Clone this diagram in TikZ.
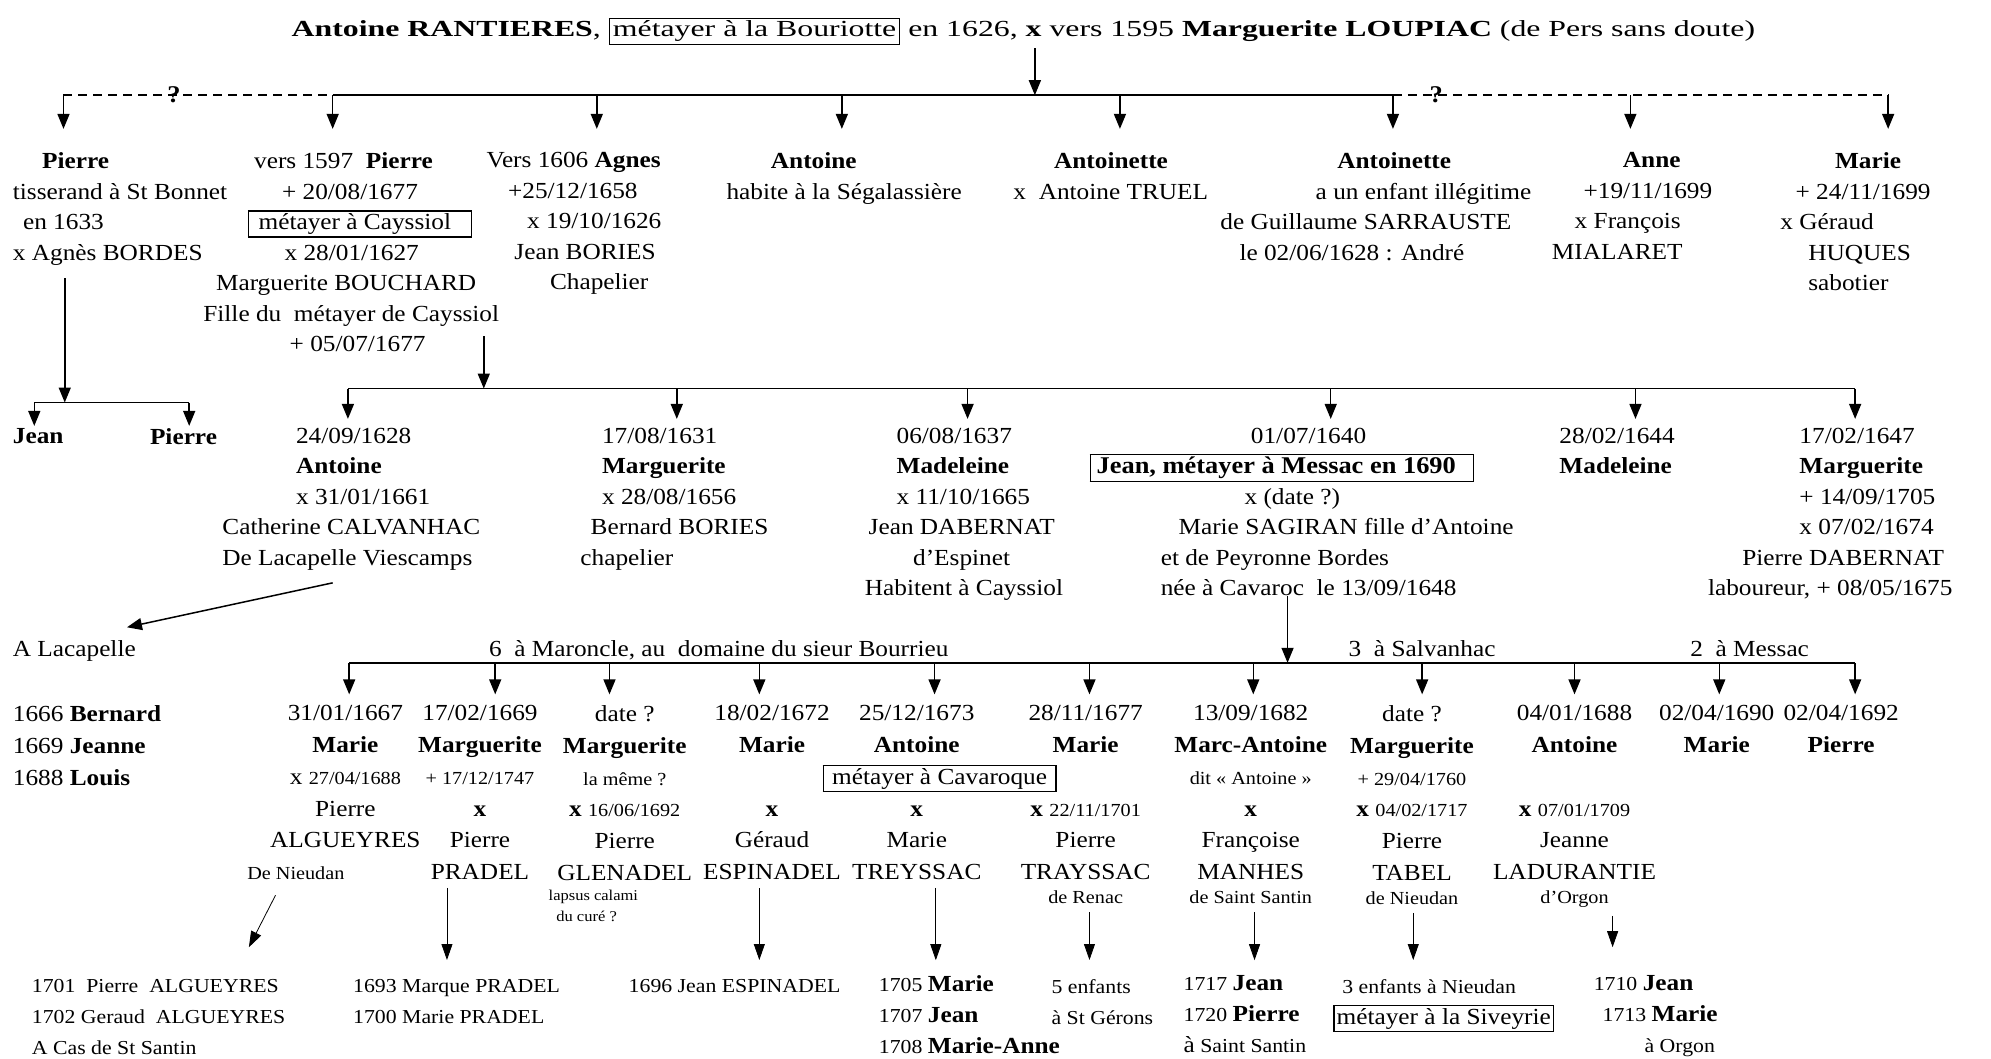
\documentclass[tikz,border=0pt]{standalone}
\usepackage{graphicx}
\usepackage{fontspec}
\setmainfont[FakeStretch=1.1]{Liberation Serif}
\usetikzlibrary{arrows.meta, positioning}
\tikzstyle{person} = [inner sep=0pt, align=left, anchor=north west, font=\fontsize{23}{30.5}\selectfont]
\tikzstyle{kid} = [inner sep=0pt, align=center, anchor=north, font=\fontsize{23}{31.75}\selectfont]
\tikzstyle{issue} = [inner sep=0pt, align=left, anchor=north west, font=\fontsize{19.8}{31}\selectfont]
\tikzstyle{note} = [inner sep=0pt, anchor=base west, font=\fontsize{23}{30}\selectfont]
\tikzstyle{bar} = [line width=1.5pt]
\tikzstyle{arrow} = [line width=1.5pt, -{Triangle[length=15pt, width=12pt]}]
\tikzstyle{slimarrow} = [line width=0.8pt, -{Triangle[length=16pt, width=11pt]}]
\newlength{\hunit}
\setlength{\hunit}{1.27pt}
\newcommand{\ind}[1]{\hspace*{#1\hunit}}
\newcommand{\petit}[1]{{\fontsize{18.4}{30}\selectfont #1}}
\newcommand{\grand}[1]{{\fontsize{23}{31}\selectfont #1}}
\newcommand{\boite}[1]{{\setlength{\fboxsep}{2pt}\setlength{\fboxrule}{1.2pt}\fbox{#1}}}

\begin{document}
\begin{tikzpicture}[x=1.27pt, y=-1.27pt]
	\useasboundingbox (0,0) rectangle (1568,834);

	% The couple
	\node (titre) [note, anchor=base] at (806,29) {\scalebox{1.257}[1]{\textbf{Antoine RANTIERES}, \boite{métayer à la Bouriotte} en 1626, \textbf{x} vers 1595 \textbf{Marguerite LOUPIAC} (de Pers sans doute)}};

	% Bar of generation 1
	\coordinate (g1) at (815,75);
	\coordinate (a1) at (50,75);
	\coordinate (a2) at (262,75);
	\coordinate (a3) at (470,75);
	\coordinate (a4) at (663,75);
	\coordinate (a5) at (882,75);
	\coordinate (a6) at (1097,75);
	\coordinate (a7) at (1284,75);
	\coordinate (a8) at (1487,75);
	\draw [arrow, shorten <=3pt] (titre.south -| g1) -- (g1);
	\draw [bar, dash pattern=on 9pt off 6pt] (a1) -- (a2);
	\draw [bar] (a2) -- (a6);
	\draw [bar, dash pattern=on 9pt off 6pt] (a6) -- (a8);
	\node (doute1) [note, anchor=base, font=\bfseries\fontsize{24}{30}\selectfont] at (137,81) {?};
	\node (doute2) [note, anchor=base, font=\bfseries\fontsize{24}{30}\selectfont] at (1131,81) {?};

	% Generation 1
	\node (pierreT) [person] at (10,120) {\ind{23}\textbf{Pierre}\\ tisserand à St Bonnet\\ \ind{8}en 1633\\ x Agnès BORDES};
	\node (pierreC) [person] at (160,120) {\ind{40}vers 1597~~\textbf{Pierre}\\ \ind{62}+ 20/08/1677\\ \ind{35}\boite{\ind{6}métayer à Cayssiol\ind{14}}\\ \ind{64}x 28/01/1627\\ \ind{10}Marguerite BOUCHARD\\ Fille du~~métayer de Cayssiol\\ \ind{68}+ 05/07/1677};
	\node (agnes) [person] at (383,120) {Vers 1606 \textbf{Agnes}\\ \ind{17}+25/12/1658\\ \ind{32}x 19/10/1626\\ \ind{22}Jean BORIES\\ \ind{50}Chapelier};
	\node (antoineS) [person] at (572,120) {\ind{35}\textbf{Antoine}\\ habite à la Ségalassière};
	\node (antoinetteT) [person] at (798,120) {\ind{32}\textbf{Antoinette}\\ x~~Antoine TRUEL};
	\node (antoinetteS) [person] at (961,120) {\ind{92}\textbf{Antoinette}\\ \ind{75}a un enfant illégitime\\ de Guillaume SARRAUSTE\\ \ind{15}le 02/06/1628 : André};
	\node (anne) [person] at (1222,120) {\ind{56}\textbf{Anne}\\ \ind{25}+19/11/1699\\ \ind{18}x François\\ MIALARET};
	\node (marieH) [person] at (1402,120) {\ind{43}\textbf{Marie}\\ \ind{12}+ 24/11/1699\\ x Géraud\\ \ind{22}HUQUES\\ \ind{22}sabotier};

	\draw [arrow, shorten >=23.5pt] (a1) -- (a1 |- pierreT.north);
	\draw [arrow, shorten >=23.5pt] (a2) -- (a2 |- pierreC.north);
	\draw [arrow, shorten >=23.5pt] (a3) -- (a3 |- agnes.north);
	\draw [arrow, shorten >=23.5pt] (a4) -- (a4 |- antoineS.north);
	\draw [arrow, shorten >=23.5pt] (a5) -- (a5 |- antoinetteT.north);
	\draw [arrow, shorten >=23.5pt] (a6) -- (a6 |- antoinetteS.north);
	\draw [arrow, shorten >=23.5pt] (a7) -- (a7 |- anne.north);
	\draw [arrow, shorten >=23.5pt] (a8) -- (a8 |- marieH.north);

	% Children of Pierre the weaver
	\node (jeanT) [person] at (10,337) {\textbf{Jean}};
	\node (pierreJ) [person] at (118,337) {\textbf{Pierre}};
	\coordinate (jp) at (51,317);
	\coordinate (jpl) at (27,317);
	\coordinate (jpr) at (149,317);
	\draw [arrow, shorten <=13pt] (pierreT.south -| jp) -- (jp);
	\draw [bar] (jpl) -- (jpr);
	\draw [arrow, shorten >=2pt] (jpl) -- (jpl |- jeanT.north);
	\draw [arrow, shorten >=2pt] (jpr) -- (jpr |- pierreJ.north);

	% Bar of generation 2
	\coordinate (g2s) at (381,265);
	\coordinate (g2) at (381,306);
	\coordinate (b1) at (274,306);
	\coordinate (b2) at (533,306);
	\coordinate (b3) at (762,306);
	\coordinate (b4) at (1048,306);
	\coordinate (b5) at (1288,306);
	\coordinate (b6) at (1461,306);
	\draw [arrow] (g2s) -- (g2);
	\draw [bar] (b1) -- (b6);

	% Generation 2
	\node (antoineC) [person] at (175,337) {\ind{58}24/09/1628\\ \ind{58}\textbf{Antoine}\\ \ind{58}x 31/01/1661\\ Catherine CALVANHAC\\ De Lacapelle Viescamps};
	\node (margueriteB) [person] at (457,337) {\ind{17}17/08/1631\\ \ind{17}\textbf{Marguerite}\\ \ind{17}x 28/08/1656\\ \ind{8}Bernard BORIES\\ chapelier};
	\node (madeleineD) [person] at (681,337) {\ind{25}06/08/1637\\ \ind{25}\textbf{Madeleine}\\ \ind{25}x 11/10/1665\\ \ind{3}Jean DABERNAT\\ \ind{38}d’Espinet\\ Habitent à Cayssiol};
	\node (jeanM) [person] at (858,337) {\ind{127}01/07/1640\\ \boite{\ind{3}{\fontsize{24}{30}\selectfont\textbf{Jean, métayer à Messac en 1690}}\ind{12}}\\ \ind{122}x (date ?)\\ \ind{70}Marie SAGIRAN fille d’Antoine\\ \ind{56}et de Peyronne Bordes\\ \ind{56}née à Cavaroc~~le 13/09/1648};
	\node (madeleineM) [person] at (1228,337) {28/02/1644\\ \textbf{Madeleine}};
	\node (margueriteD) [person] at (1345,337) {\ind{72}17/02/1647\\ \ind{72}\textbf{Marguerite}\\ \ind{72}+ 14/09/1705\\ \ind{72}x 07/02/1674\\ \ind{27}Pierre DABERNAT\\ laboureur, + 08/05/1675};

	\draw [arrow, shorten >=9pt] (b1) -- (b1 |- antoineC.north);
	\draw [arrow, shorten >=9pt] (b2) -- (b2 |- margueriteB.north);
	\draw [arrow, shorten >=9pt] (b3) -- (b3 |- madeleineD.north);
	\draw [arrow, shorten >=9pt] (b4) -- (b4 |- jeanM.north);
	\draw [arrow, shorten >=9pt] (b5) -- (b5 |- madeleineM.north);
	\draw [arrow, shorten >=9pt] (b6) -- (b6 |- margueriteD.north);

	% Antoine moves to Lacapelle
	\node (lacapelle) [note] at (10,517) {A Lacapelle};
	\node (lacapelleK) [person, font=\fontsize{23}{31.75}\selectfont] at (10,555.5) {1666 \textbf{Bernard}\\ 1669 \textbf{Jeanne}\\ 1688 \textbf{Louis}};
	\coordinate (lc1) at (262,459);
	\coordinate (lc2) at (100,494);
	\draw [arrow] (lc1) -- (lc2);

	% Bar of generation 3
	\coordinate (g3) at (1014,522);
	\coordinate (c1) at (275,522);
	\coordinate (c2) at (390,522);
	\coordinate (c3) at (480,522);
	\coordinate (c4) at (598,522);
	\coordinate (c5) at (736,522);
	\coordinate (c6) at (858,522);
	\coordinate (c7) at (987,522);
	\coordinate (c8) at (1120,522);
	\coordinate (c9) at (1240,522);
	\coordinate (c10) at (1354,522);
	\coordinate (c11) at (1461,522);
	\draw [arrow] (jeanM.south -| g3) -- (g3);
	\draw [bar] (c1) -- (c11);
	\node (maroncle) [note] at (385,517) {6~~à Maroncle, au~~domaine du sieur Bourrieu};
	\node (salvanhac) [note] at (1062,517) {3~~à Salvanhac};
	\node (messac) [note] at (1331,517) {2~~à Messac};

	% Generation 3
	\node (k1) [kid] at (272,555.5) {31/01/1667\\ \textbf{Marie}\\ x \petit{27/04/1688}\\ Pierre\\ ALGUEYRES\\ \petit{De Nieudan}\ind{78}};
	\node (k2) [kid] at (378,555.5) {17/02/1669\\ \textbf{Marguerite}\\ \petit{+ 17/12/1747}\\ \textbf{x}\\ Pierre\\ PRADEL};
	\node (k3) [kid] at (492,555.5) {date ?\\ \textbf{Marguerite}\\ \petit{la même ?}\\ \textbf{x} \petit{16/06/1692}\\ Pierre\\ GLENADEL};
	\node (lapsus) [inner sep=0pt, align=left, anchor=north west, font=\fontsize{15}{20.3}\selectfont] at (432,701) {lapsus calami\\ \ind{6}du curé ?};
	\node (k4) [kid] at (608,555.5) {18/02/1672\\ \textbf{Marie}\\ \mbox{}\\ \textbf{x}\\ Géraud\\ ESPINADEL};
	\node (k5) [kid] at (722,555.5) {25/12/1673\\ \textbf{Antoine}\\ \ind{36}\boite{\ind{5}métayer à Cavaroque\ind{5}}\\ \textbf{x}\\ Marie\\ TREYSSAC};
	\node (k6) [kid] at (855,555.5) {28/11/1677\\ \textbf{Marie}\\ \mbox{}\\ \textbf{x} \petit{22/11/1701}\\ Pierre\\ TRAYSSAC\\[-7.6pt] \petit{de Renac}};
	\node (k7) [kid] at (985,555.5) {13/09/1682\\ \textbf{Marc-Antoine}\\ \petit{dit « Antoine »}\\ \textbf{x}\\ Françoise\\ MANHES\\[-7.6pt] \petit{de Saint Santin}};
	\node (k8) [kid] at (1112,555.5) {date ?\\ \textbf{Marguerite}\\ \petit{+ 29/04/1760}\\ \textbf{x} \petit{04/02/1717}\\ Pierre\\ TABEL\\[-7.6pt] \petit{de Nieudan}};
	\node (k9) [kid] at (1240,555.5) {04/01/1688\\ \textbf{Antoine}\\ \mbox{}\\ \textbf{x} \petit{07/01/1709}\\ Jeanne\\ LADURANTIE\\[-7.6pt] \petit{d’Orgon}};
	\node (k10) [kid] at (1352,555.5) {02/04/1690\\ \textbf{Marie}};
	\node (k11) [kid] at (1450,555.5) {02/04/1692\\ \textbf{Pierre}};

	\draw [arrow, shorten >=11pt] (c1) -- (c1 |- k1.north);
	\draw [arrow, shorten >=11pt] (c2) -- (c2 |- k2.north);
	\draw [arrow, shorten >=11pt] (c3) -- (c3 |- k3.north);
	\draw [arrow, shorten >=11pt] (c4) -- (c4 |- k4.north);
	\draw [arrow, shorten >=11pt] (c5) -- (c5 |- k5.north);
	\draw [arrow, shorten >=11pt] (c6) -- (c6 |- k6.north);
	\draw [arrow, shorten >=11pt] (c7) -- (c7 |- k7.north);
	\draw [arrow, shorten >=11pt] (c8) -- (c8 |- k8.north);
	\draw [arrow, shorten >=11pt] (c9) -- (c9 |- k9.north);
	\draw [arrow, shorten >=11pt] (c10) -- (c10 |- k10.north);
	\draw [arrow, shorten >=11pt] (c11) -- (c11 |- k11.north);

	% Generation 4
	\node (algueyres) [issue] at (25,771) {1701~~Pierre~~ALGUEYRES\\ 1702 Geraud~~ALGUEYRES\\ A Cas de St Santin};
	\node (pradel) [issue] at (278,771) {1693 Marque PRADEL\\ 1700 Marie PRADEL};
	\node (espinadel) [issue] at (495,771) {1696 Jean ESPINADEL};
	\node (treyssac) [issue] at (692,768) {1705 \grand{\textbf{Marie}}\\ 1707 \grand{\textbf{Jean}}\\ 1708 \grand{\textbf{Marie-Anne}}};
	\node (trayssac) [issue] at (828,771) {5 enfants\\ à St Gérons};
	\node (manhes) [issue] at (932,768) {1717 \grand{\textbf{Jean}}\\ 1720 \grand{\textbf{Pierre}}\\ \grand{à} Saint Santin};
	\node (tabel) [issue] at (1050,771) {\ind{7}3 enfants à Nieudan\\ \grand{\boite{métayer à la Siveyrie}}};
	\node (ladurantie) [issue] at (1255,768) {1710 \grand{\textbf{Jean}}\\ \ind{7}1713 \grand{\textbf{Marie}}\\ \ind{40}à Orgon};

	\coordinate (d1) at (217,705);
	\coordinate (d1e) at (196,746);
	\draw [slimarrow] (d1) -- (d1e);
	\draw [slimarrow, shorten <=8pt, shorten >=19pt] (k2.south -| 352,0) -- (pradel.north -| 352,0);
	\draw [slimarrow, shorten <=8pt, shorten >=19pt] (k4.south -| 598,0) -- (espinadel.north -| 598,0);
	\draw [slimarrow, shorten <=8pt, shorten >=15pt] (k5.south -| 737,0) -- (treyssac.north -| 737,0);
	\draw [slimarrow, shorten <=8pt, shorten >=19pt] (k6.south -| 858,0) -- (trayssac.north -| 858,0);
	\draw [slimarrow, shorten <=8pt, shorten >=15pt] (k7.south -| 988,0) -- (manhes.north -| 988,0);
	\draw [slimarrow, shorten <=8pt, shorten >=19pt] (k8.south -| 1113,0) -- (tabel.north -| 1113,0);
	\draw [slimarrow, shorten <=8pt, shorten >=28pt] (k9.south -| 1270,0) -- (ladurantie.north -| 1270,0);

\end{tikzpicture}
\end{document}
